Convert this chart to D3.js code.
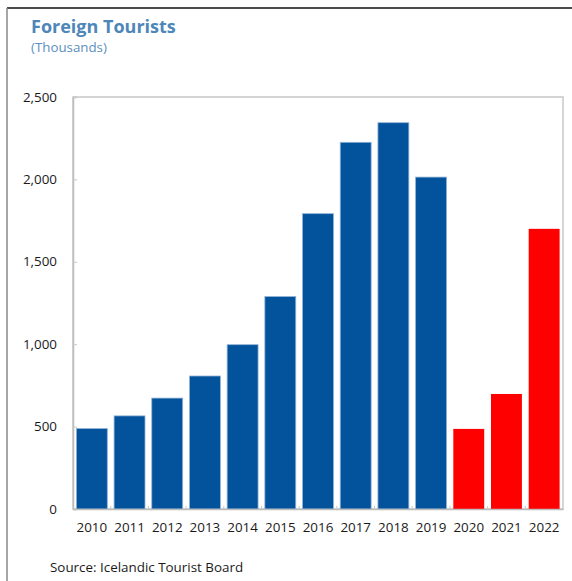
<!DOCTYPE html>
<html>
<head>
<meta charset="utf-8">
<script src="https://cdn.jsdelivr.net/npm/d3@7"></script>
<style>
  html, body { margin: 0; padding: 0; background: #fff; }
  svg { display: block; font-family: "Open Sans", "Noto Sans", sans-serif; }
</style>
</head>
<body>
<svg id="chart" width="572" height="581"></svg>
<script>
// Foreign tourist arrivals in Iceland, thousands
const years = ["2010","2011","2012","2013","2014","2015","2016","2017","2018","2019","2020","2021","2022"];
const tourists = [488, 565, 673, 807, 997, 1289, 1792, 2225, 2344, 2014, 486, 698, 1700];
const pandemicYears = ["2020","2021","2022"];
const yTicks = [0, 500, 1000, 1500, 2000, 2500];

const svg = d3.select("#chart");
const W = 572, H = 581;
const plot = { left: 73, right: 563, top: 97, bottom: 509 };
const labelSize = 13.4;

// outer frame: top rule and left rule
svg.append("line").attr("x1", 7).attr("x2", W).attr("y1", 8).attr("y2", 8)
  .attr("stroke", "#111").attr("stroke-width", 1.5);
svg.append("line").attr("x1", 7).attr("x2", 7).attr("y1", 8).attr("y2", H)
  .attr("stroke", "#888").attr("stroke-width", 1.5);

// titles
svg.append("text").attr("x", 31).attr("y", 33)
  .attr("font-size", 18).attr("font-weight", 700).attr("fill", "#4d86b9")
  .text("Foreign Tourists");
svg.append("text").attr("x", 31).attr("y", 52)
  .attr("font-size", 13.3).attr("fill", "#5b8fc0")
  .text("(Thousands)");

const x = d3.scaleBand().domain(years)
  .range([plot.left, plot.right]).paddingInner(0.18).paddingOuter(0.09);
const y = d3.scaleLinear().domain([0, 2500]).range([plot.bottom, plot.top]);

// plot frame
svg.append("rect")
  .attr("x", plot.left).attr("y", plot.top)
  .attr("width", plot.right - plot.left).attr("height", plot.bottom - plot.top)
  .attr("fill", "none").attr("stroke", "#c8c8c8").attr("stroke-width", 1.5);

// bars
svg.append("g").selectAll("rect").data(years).join("rect")
  .attr("x", d => x(d))
  .attr("width", x.bandwidth())
  .attr("y", (d, i) => y(tourists[i]))
  .attr("height", (d, i) => y(0) - y(tourists[i]))
  .attr("fill", d => pandemicYears.includes(d) ? "#ff0000" : "#03529c")
  .attr("stroke", d => pandemicYears.includes(d) ? "none" : "#8fb2d6")
  .attr("stroke-width", 0.8);

// y axis: inward ticks, labels on the left
const yAxis = svg.append("g").attr("transform", `translate(${plot.left},0)`)
  .call(d3.axisRight(y).tickValues(yTicks).tickSize(4).tickFormat(""));
yAxis.select(".domain").attr("stroke", "#bdbdbd").attr("stroke-width", 1.5);
yAxis.selectAll(".tick line").attr("stroke", "#c8c8c8");
svg.append("g").selectAll("text").data(yTicks).join("text")
  .attr("x", 57).attr("y", d => y(d)).attr("dy", "0.35em")
  .attr("text-anchor", "end").attr("font-size", labelSize).attr("fill", "#1a1a1a")
  .text(d => d3.format(",")(d));

// x axis: small ticks between bands, pointing up
const xAxis = svg.append("g").attr("transform", `translate(0,${plot.bottom})`)
  .call(d3.axisBottom(x).tickSize(0).tickPadding(13));
xAxis.select(".domain").attr("stroke", "#bdbdbd").attr("stroke-width", 1.5);
xAxis.selectAll(".tick text").attr("font-size", labelSize).attr("fill", "#1a1a1a")
  .attr("font-family", "\"Open Sans\", \"Noto Sans\", sans-serif");
const step = x.step();
svg.append("g").selectAll("line").data(years.slice(1)).join("line")
  .attr("x1", d => x(d) - step * x.paddingInner() / 2)
  .attr("x2", d => x(d) - step * x.paddingInner() / 2)
  .attr("y1", plot.bottom).attr("y2", plot.bottom - 3)
  .attr("stroke", "#c8c8c8");

// source note
svg.append("text").attr("x", 50).attr("y", 572)
  .attr("font-size", labelSize).attr("fill", "#1a1a1a")
  .text("Source: Icelandic Tourist Board");
</script>
</body>
</html>
